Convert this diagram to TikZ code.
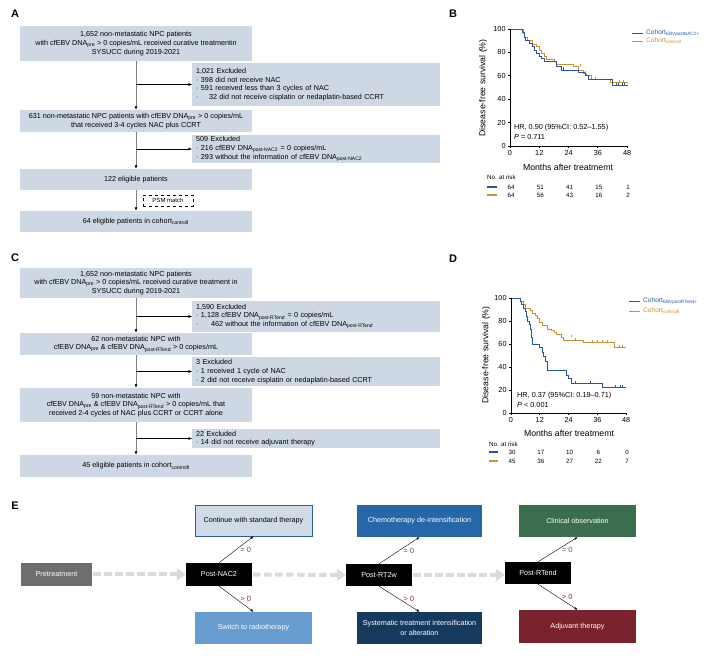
\documentclass[tikz,border=0pt]{standalone}
\usepackage{fontspec}
\setmainfont{Liberation Sans}
\newfontfamily\romfont{DejaVu Sans}
\usepackage{tikz}
\usetikzlibrary{arrows.meta, positioning}

\definecolor{boxgray}{RGB}{206,216,228}
\definecolor{kmblue}{RGB}{33,87,165}
\definecolor{kmorange}{RGB}{200,146,50}
\definecolor{pregray}{RGB}{110,110,110}
\definecolor{contfill}{RGB}{208,219,231}
\definecolor{contdraw}{RGB}{46,95,158}
\definecolor{switchblue}{RGB}{104,157,208}
\definecolor{chemoblue}{RGB}{39,103,168}
\definecolor{sysnavy}{RGB}{22,58,94}
\definecolor{obsgreen}{RGB}{59,110,79}
\definecolor{adjred}{RGB}{122,35,46}
\definecolor{zerogreen}{RGB}{60,110,60}
\definecolor{posred}{RGB}{165,35,45}

\newcommand{\boxfont}{\fontsize{7.2}{8.7}\selectfont}
\newcommand{\tickfont}{\fontsize{7.3}{8}\selectfont}
\newcommand{\titlefont}{\fontsize{8.7}{10}\selectfont}
\newcommand{\legfont}{\fontsize{6.6}{7.5}\selectfont}
\newcommand{\riskfont}{\fontsize{6.2}{7}\selectfont}
\newcommand{\xbul}{\textperiodcentered\ }
\newcommand{\ctrlI}{control{\romfont Ⅰ}}
\newcommand{\ctrlII}{control{\romfont Ⅱ}}

\tikzset{
    panellabel/.style = {inner sep=0pt, font=\fontsize{11}{11}\selectfont\bfseries},
    mainbox/.style = {rectangle, fill=boxgray, minimum width=232pt, inner sep=0pt, align=center, font=\boxfont},
    exclbox/.style = {rectangle, fill=boxgray, anchor=west, text width=240pt, inner xsep=4pt, inner ysep=0pt,
      align=left, font=\boxfont},
    psmbox/.style = {draw, dashed, line width=0.5pt, minimum width=50pt, minimum height=11pt, inner sep=0pt,
      font=\fontsize{6}{7}\selectfont},
    trunk/.style = {draw=black!50, line width=0.8pt, -{Latex[length=3.5pt,width=3pt,color=black]}},
    branch/.style = {black, line width=0.4pt, -{Latex[length=3.5pt,width=3pt]}},
    kmaxis/.style = {black, line width=0.8pt},
    kmline/.style = {line width=0.8pt},
    ticklabel/.style = {inner sep=1.5pt, font=\tickfont},
    kmtext/.style = {anchor=west, inner sep=0pt, font=\tickfont},
    legtext/.style = {anchor=west, inner sep=0pt, font=\legfont},
    risktext/.style = {inner sep=0pt, font=\riskfont},
    stagenode/.style = {rectangle, fill=black, text=white, minimum width=66pt, minimum height=23pt, inner sep=0pt,
      font=\boxfont},
    outnode/.style = {rectangle, text=white, minimum width=117pt, minimum height=32pt, inner sep=0pt, align=center,
      font=\boxfont},
    stagearrow/.style = {draw=black!14, line width=4pt, dash pattern=on 7.5pt off 3.5pt, shorten <=1pt,
      -{Triangle[length=9pt,width=12pt,color=black!14]}},
    earrow/.style = {black, line width=0.4pt, -{Latex[length=3pt,width=2.5pt]}},
    zerolab/.style = {text=zerogreen, midway, right=4pt, inner sep=0pt, font=\fontsize{7.5}{8}\selectfont},
    poslab/.style = {text=posred, midway, right=4pt, inner sep=0pt, font=\fontsize{7.5}{8}\selectfont}
}

\begin{document}
\begin{tikzpicture}[x=1pt, y=-1pt]
\useasboundingbox (0,0) rectangle (716,660);

%% panel A
\node [panellabel, name=labA] at (15,14) {A};
\node [mainbox, name=a1, minimum height=35pt] at (136,43.5) {1,652 non-metastatic NPC patients\\
  with cfEBV DNA\textsubscript{pre} > 0 copies/mL received curative treatmentin\\ SYSUCC during 2019-2021};
\node [exclbox, name=ax1, minimum height=43pt] at (192,84.5) {1,021 Excluded\\
  \xbul 398 did not receive NAC\\ \xbul 591 received less than 3 cycles of NAC\\
  \xbul \hphantom{00}32 did not receive cisplatin or nedaplatin-based CCRT};
\node [mainbox, name=a2, minimum height=22pt] at (136,121) {631 non-metastatic NPC patients with cfEBV DNA\textsubscript{pre} > 0 copies/mL\\
  that received 3-4 cycles NAC plus CCRT};
\node [exclbox, name=ax2, minimum height=28pt] at (192,149) {509 Excluded\\
  \xbul 216 cfEBV DNA\textsubscript{post-NAC2} = 0 copies/mL\\ \xbul 293 without the information of cfEBV DNA\textsubscript{post-NAC2}};
\node [mainbox, name=a3, minimum height=21pt] at (136,179.5) {122 eligible patients};
\node [psmbox, name=psm] at (168,200.5) {PSM match};
\node [mainbox, name=a4, minimum height=21pt] at (136,221.5) {64 eligible patients in cohort\textsubscript{\ctrlI}};
\draw [trunk] (a1) -- (a2);
\draw [trunk] (a2) -- (a3);
\draw [trunk] (a3) -- (a4);
\draw [branch] (a1.south |- ax1.west) -- (ax1.west);
\draw [branch] (a2.south |- ax2.west) -- (ax2.west);

%% panel C
\node [panellabel, name=labC] at (15,258) {C};
\node [mainbox, name=c1, minimum height=30pt] at (136,283) {1,652 non-metastatic NPC patients\\
  with cfEBV DNA\textsubscript{pre} > 0 copies/mL received curative treatment in\\ SYSUCC during 2019-2021};
\node [exclbox, name=cx1, minimum height=31pt] at (192,316.5) {1,590 Excluded\\
  \xbul 1,128 cfEBV DNA\textsubscript{post-RTend} = 0 copies/mL\\
  \xbul \hphantom{1,1}462 without the information of cfEBV DNA\textsubscript{post-RTend}};
\node [mainbox, name=c2, minimum height=22pt] at (136,344) {62 non-metastatic NPC with\\
  cfEBV DNA\textsubscript{pre} \& cfEBV DNA\textsubscript{post-RTend} > 0 copies/mL};
\node [exclbox, name=cx2, minimum height=29pt] at (192,371.5) {3 Excluded\\
  \xbul 1 received 1 cycle of NAC\\ \xbul 2 did not receive cisplatin or nedaplatin-based CCRT};
\node [mainbox, name=c3, minimum height=34pt] at (136,405) {59 non-metastatic NPC with\\
  cfEBV DNA\textsubscript{pre} \& cfEBV DNA\textsubscript{post-RTend} > 0 copies/mL that\\
  received 2-4 cycles of NAC plus CCRT or CCRT alone};
\node [exclbox, name=cx3, minimum height=19pt] at (192,438.5) {22 Excluded\\ \xbul 14 did not receive adjuvant therapy};
\node [mainbox, name=c4, minimum height=22pt] at (136,466) {45 eligible patients in cohort\textsubscript{\ctrlII}};
\draw [trunk] (c1) -- (c2);
\draw [trunk] (c2) -- (c3);
\draw [trunk] (c3) -- (c4);
\draw [branch] (c1.south |- cx1.west) -- (cx1.west);
\draw [branch] (c2.south |- cx2.west) -- (cx2.west);
\draw [branch] (c3.south |- cx3.west) -- (cx3.west);

%% panel B
\node [panellabel, name=labB] at (453,14) {B};
\begin{scope}[shift={(510,146)}, x=2.44pt, y=1.17pt]
  \draw [kmline, kmorange] plot [const plot] coordinates {(0,100) (5.5,96) (6,93) (7,90) (9,87) (11,85) (12,82)
    (13,79) (14,77) (15,74) (18,72) (19,70) (26,68) (28,65) (30,62) (31.5,60) (33.5,57) (41,54) (48.5,54)};
  \draw [kmline, kmblue] plot [const plot] coordinates {(0,100) (5,97) (6,93) (6.5,90) (8,88) (9,85) (10,82)
    (11,79) (12,77) (13,75) (14,72) (19,68) (21,65) (28,63) (31,60) (32,57) (42,52) (48.5,52)};
  \foreach \t/\s in {29/68, 31/62, 35/57, 45/54, 46.5/54}
    \draw [kmline, kmorange] (\t,\s) -- ++(0pt,2.5pt);
  \foreach \t/\s in {22/65, 43.5/52, 44.5/52, 46/52, 47/52}
    \draw [kmline, kmblue] (\t,\s) -- ++(0pt,2.5pt);
  \draw [kmaxis] (0,100) -- (0,0) -- (48,0);
  \foreach \v in {0,20,...,100}
    \draw [kmaxis] (0,\v) -- ++(-2.5pt,0pt) node [ticklabel, left] {\v};
  \foreach \m in {0,12,...,48}
    \draw [kmaxis] (\m,0) -- ++(0pt,-2.5pt) node [ticklabel, below] {\m};
  \node [kmtext, name=hrB] at (1.6,15.4) {HR, 0.90 (95\%CI: 0.52--1.55)};
  \node [kmtext, name=pB] at (1.6,7.7) {\textit{P} = 0.711};
\end{scope}
\node [rotate=90, font=\titlefont, inner sep=0pt, name=ylabB] at (483,88) {Disease-free survival (\%)};
\node [font=\titlefont, inner sep=0pt, name=xlabB] at (568,167) {Months after treatmemt};
\draw [kmline, kmblue] (632,33) -- (643,33);
\node [legtext, text=kmblue, name=legB1] at (646,33) {Cohort\textsubscript{EBVpostNAC2+}};
\draw [kmline, kmorange] (632,41) -- (643,41);
\node [legtext, text=kmorange, name=legB2] at (646,41) {Cohort\textsubscript{\ctrlI}};
\node [risktext, anchor=west, name=riskB] at (487,177) {No. at risk};
\draw [kmblue, line width=1.4pt] (487,187) -- (497,187);
\draw [kmorange, line width=1.4pt] (487,195) -- (497,195);
\foreach \n [count=\i from 0] in {64,51,41,15,1}
  \node [risktext, name=rb1\i] at (511+29.25*\i,187) {\n};
\foreach \n [count=\i from 0] in {64,56,43,16,2}
  \node [risktext, name=rb2\i] at (511+29.25*\i,195) {\n};

%% panel D
\node [panellabel, name=labD] at (453,259) {D};
\begin{scope}[shift={(511,413)}, x=2.4pt, y=1.15pt]
  \draw [kmline, kmorange] plot [const plot] coordinates {(0,100) (4,97) (5,94) (6,91) (8,89) (9,87) (10,85)
    (11,82) (12,79) (13,76) (15,73) (17,72) (18,70) (19,68) (21,66) (22,63) (30,61) (43,57) (48,57)};
  \draw [kmline, kmblue] plot [const plot] coordinates {(0,100) (4,97) (4.5,94) (5,91) (6,88) (6.5,84) (7,80)
    (7.5,77) (8,73) (8.5,66) (9,60) (12,57) (13,53) (13.5,49) (14.5,45) (15,37) (23,33) (24,30) (25,26)
    (38,22) (48,22)};
  \foreach \t/\s in {25/66, 27/63, 34/61, 36/61, 38/61, 40/61, 45/57, 46.5/57}
    \draw [kmline, kmorange] (\t,\s) -- ++(0pt,2.5pt);
  \foreach \t/\s in {27/26, 33/26, 43.5/22, 45.5/22, 46.5/22}
    \draw [kmline, kmblue] (\t,\s) -- ++(0pt,2.5pt);
  \draw [kmaxis] (0,100) -- (0,0) -- (48,0);
  \foreach \v in {0,20,...,100}
    \draw [kmaxis] (0,\v) -- ++(-2.5pt,0pt) node [ticklabel, left] {\v};
  \foreach \m in {0,12,...,48}
    \draw [kmaxis] (\m,0) -- ++(0pt,-2.5pt) node [ticklabel, below] {\m};
  \node [kmtext, name=hrD] at (2.5,14.8) {HR, 0.37 (95\%CI: 0.19--0.71)};
  \node [kmtext, name=pD] at (2.5,7) {\textit{P} < 0.001};
\end{scope}
\node [rotate=90, font=\titlefont, inner sep=0pt, name=ylabD] at (486,355) {Disease-free survival (\%)};
\node [font=\titlefont, inner sep=0pt, name=xlabD] at (569,433) {Months after treatmemt};
\draw [kmline, kmblue] (629,301) -- (640,301);
\node [legtext, text=kmblue, name=legD1] at (643,301) {Cohort\textsubscript{EBVpostRTend+}};
\draw [kmline, kmorange] (629,311) -- (640,311);
\node [legtext, text=kmorange, name=legD2] at (643,311) {Cohort\textsubscript{\ctrlII}};
\node [risktext, anchor=west, name=riskD] at (489,444) {No. at risk};
\draw [kmblue, line width=1.4pt] (489,452) -- (498,452);
\draw [kmorange, line width=1.4pt] (489,461) -- (498,461);
\foreach \n [count=\i from 0] in {30,17,10,6,0}
  \node [risktext, name=rd1\i] at (512+28.75*\i,452) {\n};
\foreach \n [count=\i from 0] in {45,36,27,22,7}
  \node [risktext, name=rd2\i] at (512+28.75*\i,461) {\n};

%% panel E
\node [panellabel, name=labE] at (15,506) {E};
\node [stagenode, fill=pregray, minimum width=71pt, name=pretreat] at (56.5,574.5) {Pretreatment};
\node [stagenode, name=postnac] at (219,574.5) {Post-NAC2};
\node [stagenode, minimum height=22pt, name=postrtw] at (379,575) {Post-RT2w};
\node [stagenode, minimum height=22pt, name=postrtend] at (538,573) {Post-RTend};
\node [outnode, fill=contfill, draw=contdraw, line width=0.6pt, text=black, minimum height=31pt, name=contstd]
  at (253.5,520.5) {Continue with standard therapy};
\node [outnode, fill=switchblue, name=switchrt] at (253.5,628) {Switch to radiotherapy};
\node [outnode, fill=chemoblue, minimum width=125pt, name=chemo] at (419.5,521) {Chemotherapy de-intensification};
\node [outnode, fill=sysnavy, minimum width=125pt, name=systx] at (419.5,628)
  {Systematic treatment intensification\\[2pt] or alteration};
\node [outnode, fill=obsgreen, name=clinobs] at (577.5,521) {Clinical observation};
\node [outnode, fill=adjred, minimum height=33pt, name=adjuv] at (577.5,626.5) {Adjuvant therapy};

\draw [stagearrow] (pretreat) -- (postnac);
\draw [stagearrow] (postnac) -- (postrtw);
\draw [stagearrow] (postrtw.east) -- (postrtend.west |- postrtw.east);
\draw [earrow] (postnac.north) -- node [zerolab] {= 0} (contstd.south);
\draw [earrow] (postnac.south) -- node [poslab] {> 0} (switchrt.north);
\draw [earrow] (postrtw.north) -- node [zerolab] {= 0} (chemo.south);
\draw [earrow] (postrtw.south) -- node [poslab] {> 0} (systx.north);
\draw [earrow] (postrtend.north) -- node [zerolab] {= 0} (clinobs.south);
\draw [earrow] (postrtend.south) -- node [poslab] {> 0} (adjuv.north);
\end{tikzpicture}
\end{document}
